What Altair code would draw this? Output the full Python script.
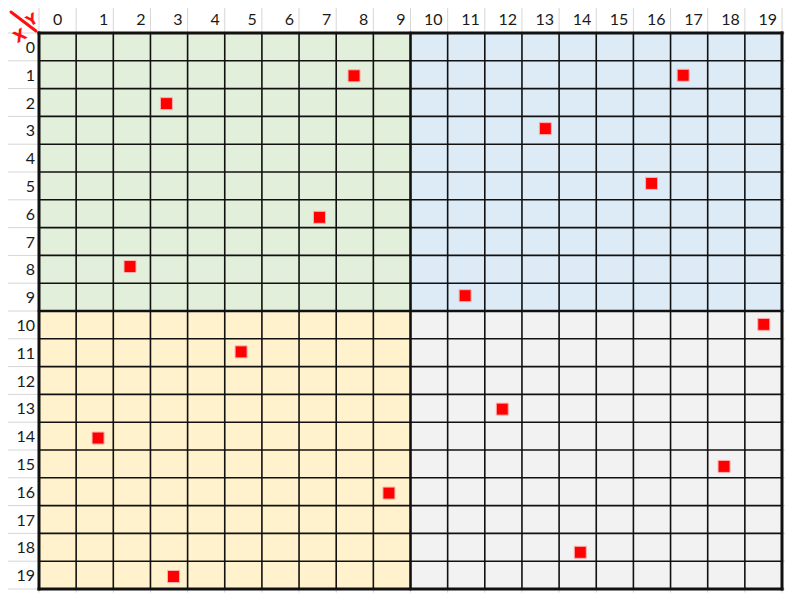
import altair as alt
import pandas as pd

# ---- data ----
columns = list(range(20))
rows = list(range(20))
point_x = [8.48, 3.43, 2.45, 7.55, 17.34, 13.63, 16.49, 11.47, 19.51, 5.44, 1.59, 9.42, 3.62, 12.47, 18.44, 14.57]
point_y = [1.54, 2.54, 8.40, 6.63, 1.52, 3.44, 5.41, 9.45, 10.48, 11.47, 14.57, 16.55, 19.55, 13.53, 15.59, 18.68]
quad_name = ["TL", "TR", "BL", "BR"]
quad_x0 = [0, 10, 0, 10]
quad_x1 = [10, 20, 10, 20]
quad_y0 = [0, 0, 10, 10]
quad_y1 = [10, 10, 20, 20]
quad_color = ["#E2EFDA", "#DDEBF7", "#FFF2CC", "#F2F2F2"]

W, H = 743, 556
FONT = "Lato"
xs = alt.Scale(domain=[0, 20], nice=False, zero=False)
ys = alt.Scale(domain=[0, 20], nice=False, zero=False, reverse=True)

quads = pd.DataFrame({"q": quad_name, "x0": quad_x0, "x1": quad_x1,
                      "y0": quad_y0, "y1": quad_y1, "color": quad_color})
lines = pd.DataFrame({"v": list(range(21))})
pts = pd.DataFrame({"x": point_x, "y": point_y})
cols_df = pd.DataFrame({"c": columns})
rows_df = pd.DataFrame({"r": rows})

# faint spreadsheet header separators
faint_v = alt.Chart(lines).mark_rule(color="#d6d6d6", strokeWidth=1).encode(
    x=alt.X("v:Q", scale=xs, axis=None),
    y=alt.Y(datum=-1.0, scale=ys, axis=None),
    y2=alt.Y2(datum=20.13),
)
faint_h = alt.Chart(lines).mark_rule(color="#d6d6d6", strokeWidth=1).encode(
    y=alt.Y("v:Q", scale=ys, axis=None),
    x=alt.X(datum=-0.9, scale=xs, axis=None),
    x2=alt.X2(datum=20.08),
)

bg = alt.Chart(quads).mark_rect().encode(
    x=alt.X("x0:Q", scale=xs, axis=None), x2="x1:Q",
    y=alt.Y("y0:Q", scale=ys, axis=None), y2="y1:Q",
    color=alt.Color("color:N", scale=None),
)

wexpr = "datum.v == 10 ? 2.6 : ((datum.v == 0 || datum.v == 20) ? 3 : 1.6)"
grid_v = alt.Chart(lines).transform_calculate(w=wexpr).mark_rule(
    color="#111111", strokeCap="square").encode(
    x=alt.X("v:Q", scale=xs, axis=None),
    y=alt.Y(datum=0, scale=ys, axis=None),
    y2=alt.Y2(datum=20),
    strokeWidth=alt.StrokeWidth("w:Q", scale=None),
)
grid_h = alt.Chart(lines).transform_calculate(w=wexpr).mark_rule(
    color="#111111", strokeCap="square").encode(
    y=alt.Y("v:Q", scale=ys, axis=None),
    x=alt.X(datum=0, scale=xs, axis=None),
    x2=alt.X2(datum=20),
    strokeWidth=alt.StrokeWidth("w:Q", scale=None),
)

squares = alt.Chart(pts).mark_square(
    size=144, color="#FF0000", opacity=1, stroke="#ffb0b0", strokeWidth=1).encode(
    x=alt.X("x:Q", scale=xs, axis=None),
    y=alt.Y("y:Q", scale=ys, axis=None),
)

col_hdr = alt.Chart(cols_df).transform_filter("datum.c > 0").transform_calculate(
    xp="datum.c + 1", lab="'' + datum.c").mark_text(
    align="right", baseline="middle", dx=-5, fontSize=16, font=FONT, color="#1a1a1a").encode(
    x=alt.X("xp:Q", scale=xs, axis=None),
    y=alt.Y(datum=-0.45, scale=ys, axis=None),
    text="lab:N",
)
col_hdr0 = alt.Chart(cols_df).transform_filter("datum.c == 0").transform_calculate(
    xp="datum.c + 0.5", lab="'' + datum.c").mark_text(
    align="center", baseline="middle", fontSize=16, font=FONT, color="#1a1a1a").encode(
    x=alt.X("xp:Q", scale=xs, axis=None),
    y=alt.Y(datum=-0.45, scale=ys, axis=None),
    text="lab:N",
)
row_hdr = alt.Chart(rows_df).transform_calculate(
    yp="datum.r + 0.5", lab="'' + datum.r").mark_text(
    align="right", baseline="middle", dy=1, fontSize=16, font=FONT, color="#1a1a1a").encode(
    y=alt.Y("yp:Q", scale=ys, axis=None),
    x=alt.value(-4),
    text="lab:N",
)

# handwritten red "X/Y" corner mark (kept inside the canvas)
slash = alt.Chart(cols_df).transform_filter("datum.c == 0").mark_rule(
    color="#FF1010", strokeWidth=3, strokeCap="round").encode(
    x=alt.value(-28), x2=alt.value(-3), y=alt.value(-21), y2=alt.value(-2))
xmark = alt.Chart(cols_df).transform_filter("datum.c == 0").mark_text(
    text="X", color="#FF1010", fontSize=16, fontWeight="bold", font="DejaVu Sans",
    angle=330, align="center", baseline="middle").encode(
    x=alt.value(-19), y=alt.value(3))
ymark = alt.Chart(cols_df).transform_filter("datum.c == 0").mark_text(
    text="Y", color="#FF1010", fontSize=15, fontWeight="bold", font="DejaVu Sans",
    angle=330, align="center", baseline="middle").encode(
    x=alt.value(-7), y=alt.value(-13))

chart = alt.layer(
    faint_v, faint_h, bg, grid_v, grid_h, squares,
    col_hdr, col_hdr0, row_hdr, slash, xmark, ymark,
).properties(
    width=W, height=H,
    padding={"left": 31, "top": 25, "right": 8, "bottom": 8},
    autosize=alt.AutoSizeParams(type="none"),
    background="white",
).configure_view(stroke=None)

chart.save("out.html", embed_options={"renderer": "svg", "actions": False})
